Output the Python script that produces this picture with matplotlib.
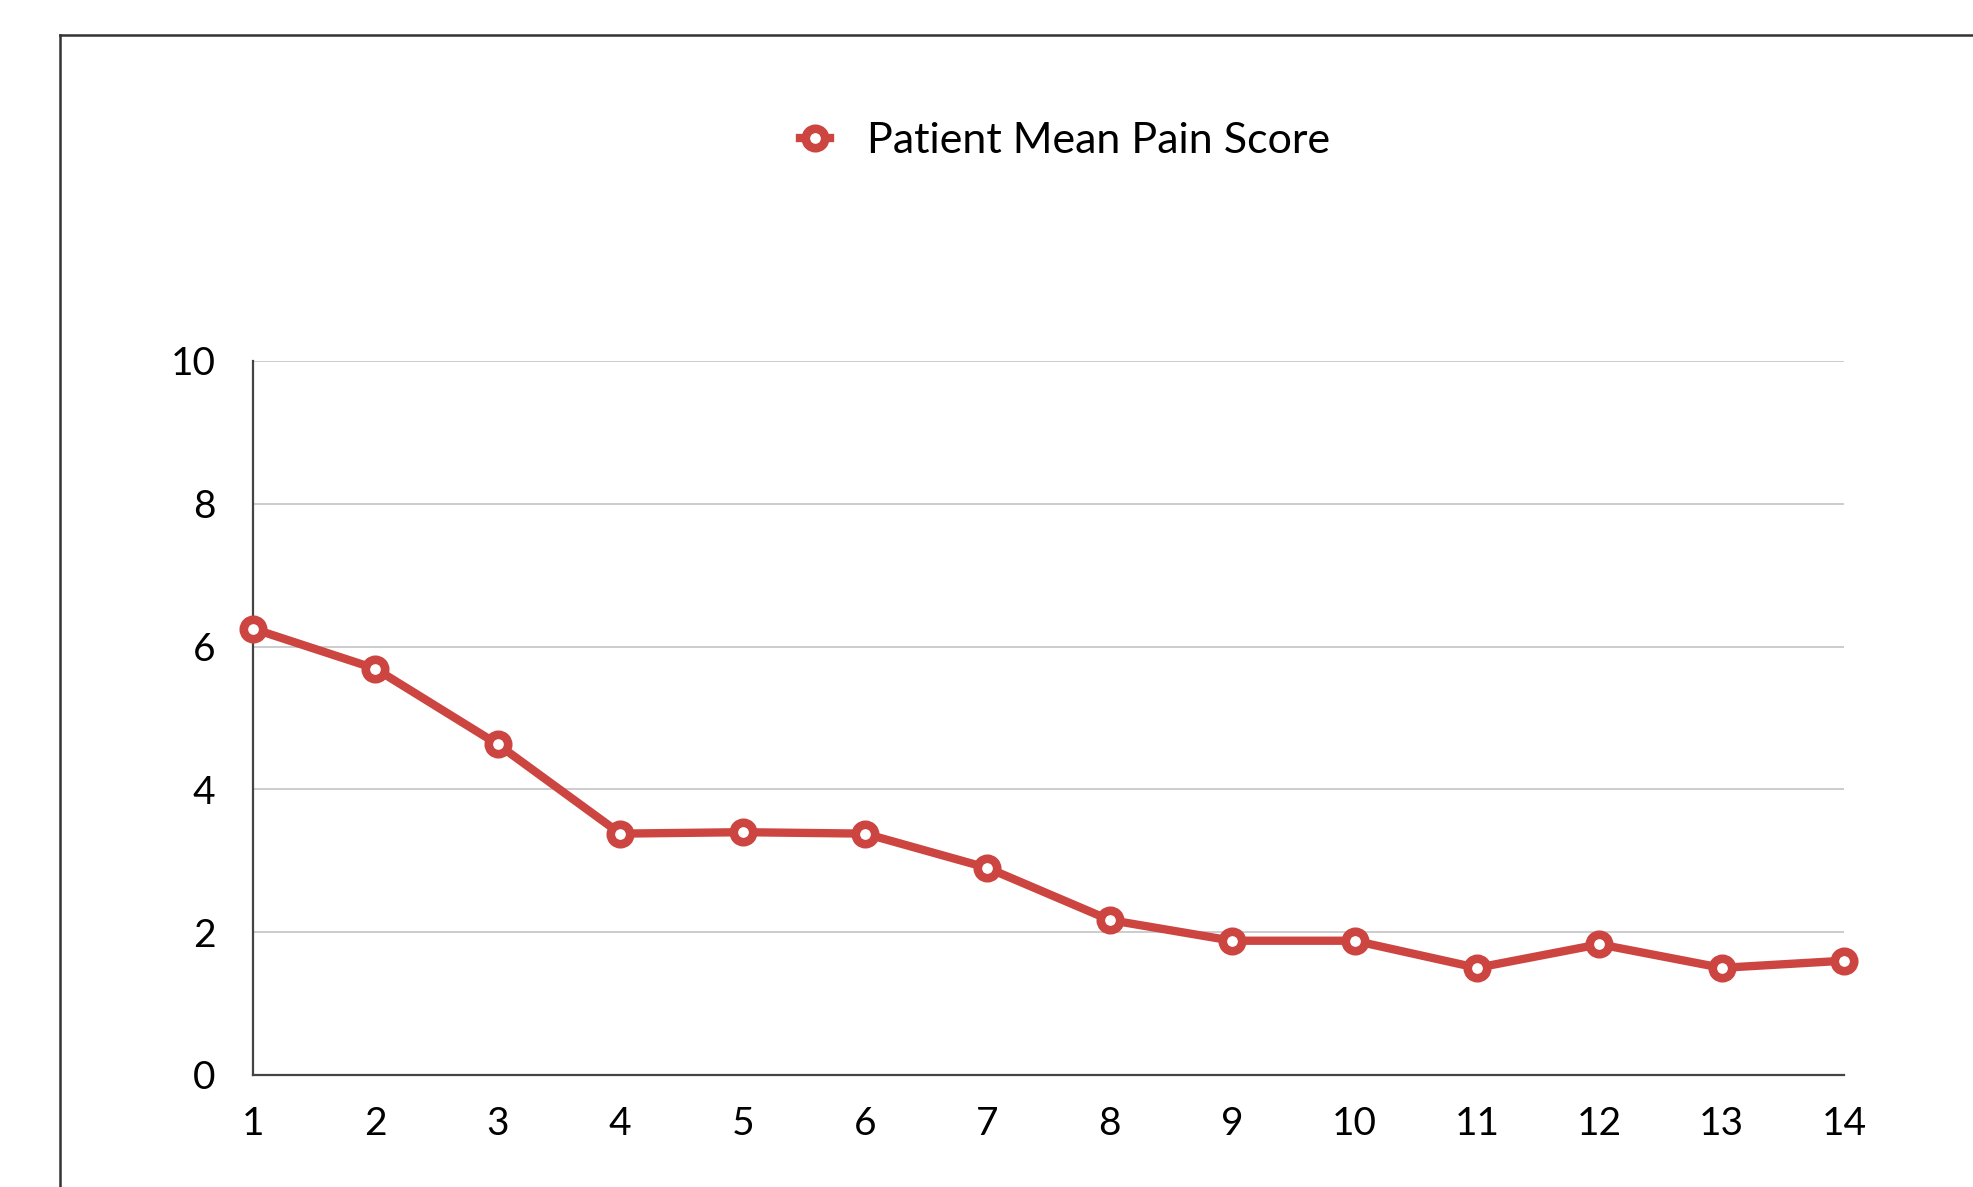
import matplotlib.pyplot as plt
from matplotlib.lines import Line2D

# donnees
days = [1, 2, 3, 4, 5, 6, 7, 8, 9, 10, 11, 12, 13, 14]
pain = [6.25, 5.69, 4.63, 3.38, 3.40, 3.38, 2.90, 2.17, 1.88, 1.88, 1.50, 1.83, 1.50, 1.60]
yticks = [0, 2, 4, 6, 8, 10]
series_name = "Patient Mean Pain Score"

plt.rcParams['font.family'] = ['Lato', 'DejaVu Sans']
red = '#cc4540'

fig = plt.figure(figsize=(19.74, 11.87), dpi=100)
ax = fig.add_axes([0.1282, 0.0944, 0.806, 0.6015])

ax.plot(days, pain, color=red, lw=6, marker='o', ms=14, mew=6.2,
        mfc='white', mec=red, clip_on=False, zorder=3, label=series_name)

ax.set_xlim(1, 14)
ax.set_ylim(0, 10)
ax.set_xticks(days)
ax.set_yticks(yticks)
ax.tick_params(length=0, labelsize=28, colors='black')
ax.tick_params(axis='y', pad=27)
ax.tick_params(axis='x', pad=22)
ax.grid(axis='y', color='#c8c8c8', lw=1.3)
ax.set_axisbelow(True)
for s in ['top', 'right']:
    ax.spines[s].set_visible(False)
for s in ['left', 'bottom']:
    ax.spines[s].set_color('#444444')
    ax.spines[s].set_linewidth(1.6)

fig.legend(loc='center', bbox_to_anchor=(0.5395, 0.881), frameon=False,
           fontsize=31, handlelength=0.7, handletextpad=0.85)

# cadre autour du graphique
fig.add_artist(Line2D([0.0304, 0.0304], [0, 0.9705], color='#333333', lw=1.8))
fig.add_artist(Line2D([0.0304, 1], [0.9705, 0.9705], color='#333333', lw=1.8))

fig.savefig('out.png', dpi=100)
